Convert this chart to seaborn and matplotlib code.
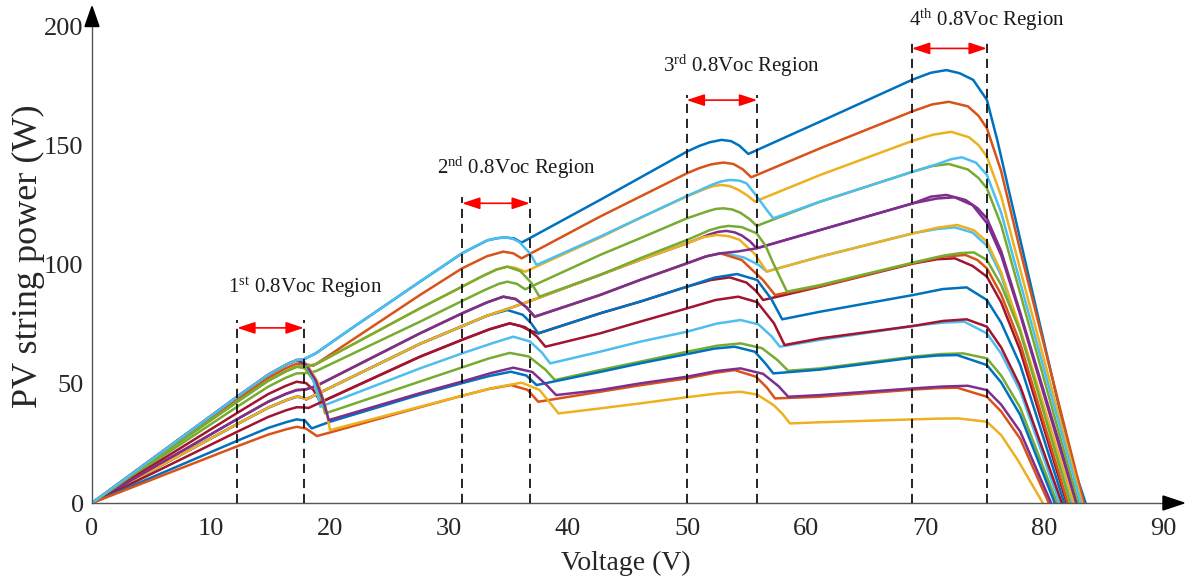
import matplotlib
matplotlib.use("Agg")
import matplotlib.pyplot as plt
import seaborn as sns
import pandas as pd
from matplotlib.patches import Polygon

# ---------------- data ----------------
# Voltage (V) / Power (W) points of each P-V curve, in MATLAB plotting order
blue1_v = [0, 12.2, 14.8, 16.3, 17.2, 17.8, 18.8, 21.7, 27.56, 31.1, 33.2, 34.0, 34.7, 35.5, 36.1, 42.69, 50.0, 51.0, 51.9, 52.9, 53.7, 54.4, 55.15, 61.2, 69.0, 70.5, 71.8, 72.9, 74.05, 75.2, 76.1, 77.1, 79.7, 82.3, 83.5]
blue1_p = [0, 44.6, 53.8, 58.0, 60.0, 60.3, 62.8, 72.9, 92.9, 104.8, 110.2, 111.1, 111.5, 111.0, 109.3, 127.2, 147.5, 149.8, 151.4, 152.4, 151.9, 150.0, 146.5, 160.1, 177.8, 180.6, 181.7, 180.4, 177.6, 169.2, 151.8, 130.0, 74.0, 18.0, 0.0]

orange1_v = [0, 12.2, 14.8, 16.3, 17.2, 17.9, 18.6, 27.56, 31.1, 33.2, 34.56, 35.4, 36.1, 42.69, 50.0, 51.0, 52.0, 53.05, 53.9, 54.7, 55.4, 61.2, 69.0, 70.6, 72.0, 73.6, 74.5, 75.2, 76.4, 78.0, 83.35]
orange1_p = [0, 43.5, 52.5, 56.6, 58.5, 58.3, 57.6, 87.3, 98.5, 103.6, 105.5, 104.8, 102.7, 120.2, 138.4, 140.5, 142.1, 142.9, 142.3, 140.0, 136.7, 148.9, 164.5, 167.3, 168.4, 166.5, 162.5, 157.3, 139.3, 106.0, 0]

yellow1_v = [0, 12.2, 14.8, 16.3, 17.2, 17.9, 18.8, 27.56, 31.1, 32.8, 34.0, 34.9, 35.6, 36.4, 42.69, 46.05, 50.0, 51.6, 52.2, 52.9, 53.6, 54.3, 55.1, 55.7, 61.2, 69.0, 70.7, 72.2, 73.7, 74.5, 75.2, 76.4, 78.0, 83.2]
yellow1_p = [0, 42.5, 51.3, 55.3, 57.2, 57.3, 58.2, 81.7, 90.8, 95.2, 98.0, 99.2, 98.7, 97.1, 111.4, 119.6, 128.7, 132.0, 133.0, 133.5, 133.0, 131.5, 129.0, 126.5, 137.7, 152.1, 154.6, 155.8, 153.5, 150.2, 145.4, 128.8, 98.0, 0]

purple1_v = [0, 12.2, 14.8, 16.3, 17.2, 17.6, 18.0, 27.56, 31.1, 33.2, 35.0, 36.5, 46.05, 50.0, 51.8, 52.6, 53.3, 54.0, 54.6, 55.3, 55.85, 61.2, 69.0, 70.5, 71.8, 73.4, 74.4, 75.2, 76.4, 78.0, 82.8]
purple1_p = [0, 33.1, 40.0, 43.1, 44.6, 44.4, 43.5, 66.8, 74.2, 78.6, 81.6, 84.2, 102.0, 109.0, 112.6, 113.8, 114.2, 113.6, 112.3, 109.8, 106.9, 114.6, 125.8, 128.6, 129.3, 127.2, 123.8, 119.5, 105.7, 80.0, 0]

green1_v = [0, 12.2, 14.8, 16.3, 17.2, 17.9, 18.8, 27.56, 31.1, 33.0, 34.2, 34.9, 35.7, 36.4, 42.69, 46.05, 50.0, 51.7, 52.4, 53.05, 53.8, 54.5, 55.3, 55.85, 61.2, 69.0, 70.6, 72.0, 73.6, 74.5, 75.2, 76.4, 78.0, 82.9]
green1_p = [0, 40.4, 48.8, 52.6, 54.4, 54.5, 55.3, 76.1, 84.8, 89.4, 92.0, 92.9, 92.0, 89.7, 104.1, 111.1, 119.5, 122.4, 123.4, 123.7, 123.2, 121.8, 119.0, 116.3, 126.5, 139.1, 141.4, 142.3, 140.0, 136.4, 132.1, 116.7, 88.0, 0]

lightblue1_v = [0, 12.2, 14.8, 16.3, 17.2, 17.9, 18.8, 27.56, 31.1, 33.2, 34.56, 35.6, 36.5, 37.2, 42.69, 46.05, 50.0, 51.6, 52.8, 53.3, 54.8, 56.0, 56.7, 61.2, 69.0, 71.0, 72.5, 74.0, 75.2, 76.4, 78.0, 82.4]
lightblue1_p = [0, 35.2, 42.5, 45.8, 47.4, 47.6, 49.0, 71.2, 79.6, 84.2, 86.6, 85.6, 82.2, 78.2, 87.3, 93.6, 100.6, 103.5, 104.8, 104.7, 103.0, 100.0, 97.2, 103.4, 113.2, 115.0, 115.7, 113.5, 108.0, 95.4, 72.0, 0]

darkred1_v = [0, 12.2, 14.8, 16.3, 17.2, 18.0, 18.6, 19.2, 27.56, 31.1, 33.4, 35.1, 36.0, 36.8, 37.5, 42.69, 46.05, 50.0, 52.0, 53.6, 55.0, 55.8, 56.4, 61.2, 69.0, 71.0, 72.5, 74.0, 75.2, 76.4, 78.0, 81.9]
darkred1_p = [0, 37.8, 45.7, 49.2, 50.9, 50.3, 47.5, 42.3, 61.4, 68.5, 72.9, 75.4, 74.3, 72.4, 71.2, 79.6, 84.5, 90.8, 93.6, 94.7, 92.5, 89.0, 85.2, 90.8, 100.5, 102.3, 102.7, 99.5, 95.0, 84.2, 64.0, 0]

blue2_v = [0, 12.2, 14.8, 16.3, 17.2, 17.6, 18.0, 27.56, 31.1, 33.2, 34.9, 36.2, 36.9, 37.5, 42.69, 46.05, 50.0, 52.3, 54.2, 55.9, 57.1, 58.0, 61.2, 69.0, 71.5, 73.5, 75.2, 76.4, 78.0, 81.7]
blue2_p = [0, 33.1, 40.0, 43.1, 44.6, 44.4, 43.5, 66.8, 74.2, 78.6, 81.0, 79.0, 75.5, 71.2, 79.6, 84.5, 90.8, 94.6, 96.1, 93.6, 85.5, 77.1, 80.3, 87.3, 89.8, 90.5, 85.2, 75.7, 58.0, 0]

orange2_v = [0, 12.2, 14.8, 16.3, 17.2, 17.9, 18.8, 27.56, 31.1, 33.2, 34.56, 35.6, 36.5, 37.2, 42.69, 46.05, 50.0, 51.6, 52.8, 54.6, 56.4, 57.4, 61.2, 69.0, 71.5, 73.4, 74.4, 75.2, 76.4, 78.0, 82.0]
orange2_p = [0, 35.2, 42.5, 45.8, 47.4, 47.6, 49.0, 71.2, 79.6, 84.2, 86.6, 85.6, 82.2, 78.2, 87.3, 93.6, 100.6, 103.5, 104.8, 102.0, 93.5, 87.3, 91.0, 100.7, 103.4, 104.1, 102.0, 98.5, 87.5, 67.0, 0]

yellow2_v = [0, 12.2, 14.8, 16.3, 17.2, 17.6, 18.0, 27.56, 31.1, 33.2, 35.0, 36.5, 46.05, 50.0, 51.3, 52.5, 53.5, 54.4, 55.7, 56.7, 61.2, 69.0, 71.0, 72.7, 74.1, 75.2, 76.4, 78.0, 82.5]
yellow2_p = [0, 33.1, 40.0, 43.1, 44.6, 44.4, 43.5, 66.8, 74.2, 78.6, 81.6, 84.2, 102.0, 109.0, 111.5, 112.5, 112.0, 110.5, 104.5, 97.1, 103.4, 113.2, 115.5, 116.7, 114.5, 109.7, 96.9, 73.0, 0]

purple2_v = [0, 12.2, 14.8, 16.3, 17.2, 17.9, 18.8, 27.56, 31.1, 33.2, 34.56, 35.6, 36.5, 37.2, 42.69, 46.05, 50.0, 51.6, 52.8, 54.3, 55.85, 61.2, 69.0, 71.0, 72.5, 74.0, 75.2, 76.4, 78.0, 82.7]
purple2_p = [0, 35.2, 42.5, 45.8, 47.4, 47.6, 49.0, 71.2, 79.6, 84.2, 86.6, 85.6, 82.2, 78.2, 87.3, 93.6, 100.6, 103.5, 104.8, 105.6, 106.9, 114.6, 125.8, 127.8, 128.3, 125.0, 117.5, 104.0, 79.0, 0]

green2_v = [0, 12.2, 14.8, 16.3, 17.2, 17.9, 18.6, 19.2, 19.6, 27.56, 31.1, 33.3, 35.1, 36.7, 38.1, 38.9, 42.69, 46.05, 50.0, 52.5, 54.5, 56.3, 57.6, 58.5, 61.2, 69.0, 71.3, 73.2, 75.2, 76.4, 78.0, 81.1]
green2_p = [0, 42.5, 51.3, 55.3, 57.2, 56.5, 51.5, 44.5, 37.6, 51.0, 56.9, 60.6, 63.0, 61.5, 56.0, 51.6, 55.8, 59.3, 63.5, 66.0, 67.0, 65.0, 60.0, 55.5, 56.5, 61.4, 62.5, 62.8, 60.7, 53.5, 40.0, 0]

lightblue2_v = [0, 12.2, 14.8, 16.3, 17.2, 17.9, 18.5, 18.9, 19.2, 27.56, 31.1, 33.6, 35.4, 36.8, 37.8, 38.5, 42.69, 46.05, 50.0, 52.5, 54.5, 56.0, 57.1, 57.8, 61.2, 69.0, 71.5, 73.3, 75.2, 76.4, 78.0, 81.3]
lightblue2_p = [0, 44.6, 53.8, 58.0, 60.0, 59.0, 53.0, 46.5, 40.4, 56.5, 62.8, 67.0, 69.8, 67.8, 63.2, 58.6, 63.5, 67.7, 71.9, 75.3, 76.8, 75.0, 70.0, 65.6, 68.5, 74.3, 75.7, 76.1, 71.2, 62.7, 47.0, 0]

darkred2_v = [0, 12.2, 14.8, 16.3, 17.2, 17.8, 18.2, 27.56, 31.1, 33.4, 35.1, 36.4, 37.4, 38.1, 42.69, 46.05, 50.0, 52.4, 54.3, 55.9, 57.3, 58.2, 61.2, 69.0, 71.5, 73.5, 75.2, 76.4, 78.0, 81.5]
darkred2_p = [0, 29.9, 36.1, 38.9, 40.2, 40.1, 39.9, 61.4, 68.5, 72.9, 75.4, 73.8, 69.8, 65.6, 71.2, 76.1, 81.7, 85.2, 86.6, 84.3, 75.5, 66.3, 69.1, 74.3, 76.4, 77.1, 74.0, 65.3, 49.0, 0]

blue3_v = [0, 12.2, 14.8, 16.3, 17.2, 17.9, 18.46, 20.0, 27.56, 31.1, 33.3, 35.2, 36.5, 37.36, 42.69, 46.05, 50.0, 52.3, 54.0, 55.7, 56.6, 57.25, 61.2, 69.0, 71.0, 72.7, 75.2, 76.4, 78.0, 80.9]
blue3_p = [0, 26.1, 31.5, 33.9, 35.1, 34.6, 31.3, 34.1, 45.5, 50.3, 53.2, 55.1, 53.5, 49.5, 55.0, 58.6, 62.5, 64.8, 65.6, 63.5, 58.5, 54.4, 56.0, 61.0, 61.9, 62.1, 57.9, 50.6, 37.0, 0]

orange3_v = [0, 12.2, 14.8, 16.3, 17.2, 18.0, 18.9, 20.0, 27.56, 31.1, 33.3, 35.2, 36.6, 37.5, 42.69, 46.05, 50.0, 52.3, 54.0, 55.8, 56.7, 57.4, 61.2, 69.0, 71.0, 72.7, 75.2, 76.4, 78.0, 80.4]
orange3_p = [0, 23.8, 28.7, 30.9, 32.0, 31.2, 28.1, 29.6, 40.2, 45.0, 47.8, 49.5, 47.5, 42.5, 46.7, 49.4, 52.3, 54.6, 55.8, 53.0, 48.5, 43.9, 44.6, 47.6, 48.2, 48.4, 44.6, 38.4, 27.0, 0]

yellow3_v = [0, 12.2, 14.8, 16.3, 17.2, 18.1, 19.0, 19.6, 20.0, 27.56, 31.1, 33.8, 36.1, 37.6, 38.5, 39.2, 42.69, 46.05, 50.0, 52.6, 54.5, 55.9, 57.3, 58.0, 58.65, 61.2, 69.0, 71.0, 72.8, 75.2, 76.4, 77.8, 79.9]
yellow3_p = [0, 44.6, 53.8, 58.0, 60.0, 58.0, 50.5, 41.0, 30.6, 40.4, 45.0, 48.4, 50.5, 47.5, 42.0, 37.6, 39.7, 41.8, 44.4, 46.0, 46.7, 45.5, 41.0, 37.5, 33.4, 33.9, 35.1, 35.4, 35.5, 34.1, 28.5, 18.0, 0]

purple3_v = [0, 12.2, 14.8, 16.3, 17.2, 18.0, 18.8, 19.4, 19.9, 27.56, 31.1, 33.5, 35.4, 37.0, 38.2, 39.0, 42.69, 46.05, 50.0, 52.5, 54.5, 56.4, 57.7, 58.5, 61.2, 69.0, 71.5, 73.6, 75.2, 76.4, 78.0, 80.6]
purple3_p = [0, 44.6, 53.8, 58.0, 60.0, 58.0, 51.5, 43.5, 34.8, 46.1, 51.0, 54.5, 56.8, 55.0, 49.5, 45.3, 47.4, 50.2, 53.0, 55.4, 56.5, 54.2, 49.0, 44.6, 45.3, 48.1, 48.9, 49.2, 47.4, 41.3, 30.0, 0]

green3_v = [0, 12.2, 14.8, 16.3, 17.2, 17.9, 18.8, 27.56, 31.1, 32.8, 34.0, 34.9, 36.0, 36.9, 37.6, 42.69, 46.05, 50.0, 51.9, 52.8, 53.5, 54.6, 55.85, 56.6, 57.25, 58.4, 61.2, 69.0, 71.5, 73.0, 74.1, 75.2, 76.4, 78.0, 82.2]
green3_p = [0, 42.5, 51.3, 55.3, 57.2, 57.3, 58.2, 81.7, 90.8, 95.2, 98.0, 99.2, 97.3, 92.5, 86.6, 95.7, 102.7, 110.4, 114.5, 115.8, 116.3, 115.8, 113.2, 108.0, 100.6, 88.7, 91.5, 100.9, 103.8, 104.9, 105.2, 102.0, 91.5, 72.0, 0]

lightblue3_v = [0, 12.2, 14.8, 16.3, 17.2, 17.8, 18.8, 21.7, 27.56, 31.1, 33.2, 34.0, 34.7, 35.3, 35.9, 36.8, 37.36, 42.69, 50.0, 51.0, 52.1, 52.9, 53.6, 54.4, 55.0, 55.9, 56.7, 57.25, 61.2, 69.0, 71.0, 72.2, 73.1, 74.3, 75.2, 76.4, 78.0, 83.1]
lightblue3_p = [0, 44.6, 53.8, 58.0, 60.0, 60.3, 62.8, 72.9, 92.9, 104.8, 110.2, 111.1, 111.5, 111.0, 109.6, 104.8, 99.9, 111.8, 128.9, 131.1, 133.6, 135.0, 135.6, 135.3, 134.2, 128.5, 123.0, 119.5, 126.5, 139.1, 142.2, 144.3, 145.1, 142.8, 137.7, 121.9, 92.5, 0]

# axis ticks
x_ticks = [0, 10, 20, 30, 40, 50, 60, 70, 80, 90]
y_ticks = [0, 50, 100, 150, 200]

# 0.8Voc regions: bounds (V), top of the dashed lines (W), arrow level (W), labels
region_left = [12.2, 31.1, 49.97, 68.9]
region_right = [17.8, 36.8, 55.9, 75.2]
region_top = [76.8, 128.6, 171.2, 193.6]
region_arrow = [73.5, 125.8, 169.1, 190.8]
region_ord = ["1", "2", "3", "4"]
region_sup = ["st", "nd", "rd", "th"]
label_x = [11.4, 29.0, 48.0, 68.65]
label_y = [90.2, 140.6, 183.4, 202.7]

# MATLAB default colour order
c_blue, c_orange, c_yellow, c_purple = "#0072BD", "#D95319", "#EDB120", "#7E2F8E"
c_green, c_lblue, c_dred = "#77AC30", "#4DBEEE", "#A2142F"

curves = [
    ("blue1", blue1_v, blue1_p, c_blue),
    ("orange1", orange1_v, orange1_p, c_orange),
    ("yellow1", yellow1_v, yellow1_p, c_yellow),
    ("purple1", purple1_v, purple1_p, c_purple),
    ("green1", green1_v, green1_p, c_green),
    ("lightblue1", lightblue1_v, lightblue1_p, c_lblue),
    ("darkred1", darkred1_v, darkred1_p, c_dred),
    ("blue2", blue2_v, blue2_p, c_blue),
    ("orange2", orange2_v, orange2_p, c_orange),
    ("yellow2", yellow2_v, yellow2_p, c_yellow),
    ("purple2", purple2_v, purple2_p, c_purple),
    ("green2", green2_v, green2_p, c_green),
    ("lightblue2", lightblue2_v, lightblue2_p, c_lblue),
    ("darkred2", darkred2_v, darkred2_p, c_dred),
    ("blue3", blue3_v, blue3_p, c_blue),
    ("orange3", orange3_v, orange3_p, c_orange),
    ("yellow3", yellow3_v, yellow3_p, c_yellow),
    ("purple3", purple3_v, purple3_p, c_purple),
    ("green3", green3_v, green3_p, c_green),
    ("lightblue3", lightblue3_v, lightblue3_p, c_lblue),
]

rows = []
for name, vv, pp, col in curves:
    assert len(vv) == len(pp), name
    for k, (v, p) in enumerate(zip(vv, pp)):
        rows.append((name, k, v, p))
df = pd.DataFrame(rows, columns=["curve", "idx", "V", "P"])
palette = {name: col for name, _, _, col in curves}
order = [name for name, _, _, _ in curves]

# ---------------- style ----------------
sns.set_theme(style="white")
plt.rcParams["font.family"] = ["Liberation Serif", "DejaVu Serif"]
plt.rcParams["mathtext.fontset"] = "custom"
plt.rcParams["mathtext.rm"] = "Liberation Serif"
plt.rcParams["mathtext.it"] = "Liberation Serif:italic"

W, H = 1189, 581
fig = plt.figure(figsize=(W / 100, H / 100), dpi=100)
ax_l, ax_b = 92 / W, (H - 503) / H
ax_w, ax_h = (1163 - 92) / W, (503 - 26.5) / H
ax = fig.add_axes([ax_l, ax_b, ax_w, ax_h])

sns.lineplot(data=df, x="V", y="P", hue="curve", hue_order=order, palette=palette,
             sort=False, estimator=None, units="curve", legend=False,
             linewidth=1.8, ax=ax)

ax.set_xlim(0, 90)
ax.set_ylim(0, 200)
ax.set_xticks(x_ticks)
ax.set_yticks(y_ticks)
ax.set_xlabel("")
ax.set_ylabel("")
for s in ["top", "right"]:
    ax.spines[s].set_visible(False)
for s in ["left", "bottom"]:
    ax.spines[s].set_color("#555555")
    ax.spines[s].set_linewidth(1.0)
ax.tick_params(axis="both", direction="in", length=7.5, width=0.9, color="#555555",
               labelsize=19, labelcolor="#262626")
ax.tick_params(axis="x", pad=11)
ax.tick_params(axis="y", pad=6)

# axis arrows
aw, ah = ax_w * W, ax_h * H
ax.add_patch(Polygon([(1 + 21 / aw, 0), (1, 7 / ah), (1, -7 / ah)], closed=True,
                     transform=ax.transAxes, color="black", clip_on=False, zorder=6))
ax.add_patch(Polygon([(0, 1 + 20 / ah), (7 / aw, 1), (-7 / aw, 1)], closed=True,
                     transform=ax.transAxes, color="black", clip_on=False, zorder=6))

# 0.8Voc regions
for xl, xr, yt, ya, o, sp, tx, ty in zip(region_left, region_right, region_top, region_arrow,
                                         region_ord, region_sup, label_x, label_y):
    for xv in (xl, xr):
        ax.plot([xv, xv], [0, yt], color="black", lw=1.2, ls=(0, (5.5, 3.5)),
                zorder=5, clip_on=False)
    ax.annotate("", xy=(xr, ya), xytext=(xl, ya),
                arrowprops=dict(arrowstyle="<|-|>,head_length=0.9,head_width=0.3",
                                color="red", lw=1.2, shrinkA=0, shrinkB=0,
                                mutation_scale=12), zorder=6)
    ax.text(tx, ty, r"$\mathregular{" + o + "^{" + sp + "}}$ 0.8Voc Region",
            fontsize=15, ha="left", va="center", color="#1a1a1a", clip_on=False)

fig.text(626 / W, 1 - 563 / H, "Voltage (V)", fontsize=20, ha="center", va="center",
         color="#262626")
fig.text(28 / W, 1 - 256 / H, "PV string power (W)", fontsize=26, ha="center",
         va="center", rotation=90, color="#262626")

fig.savefig("out.png", dpi=100)
